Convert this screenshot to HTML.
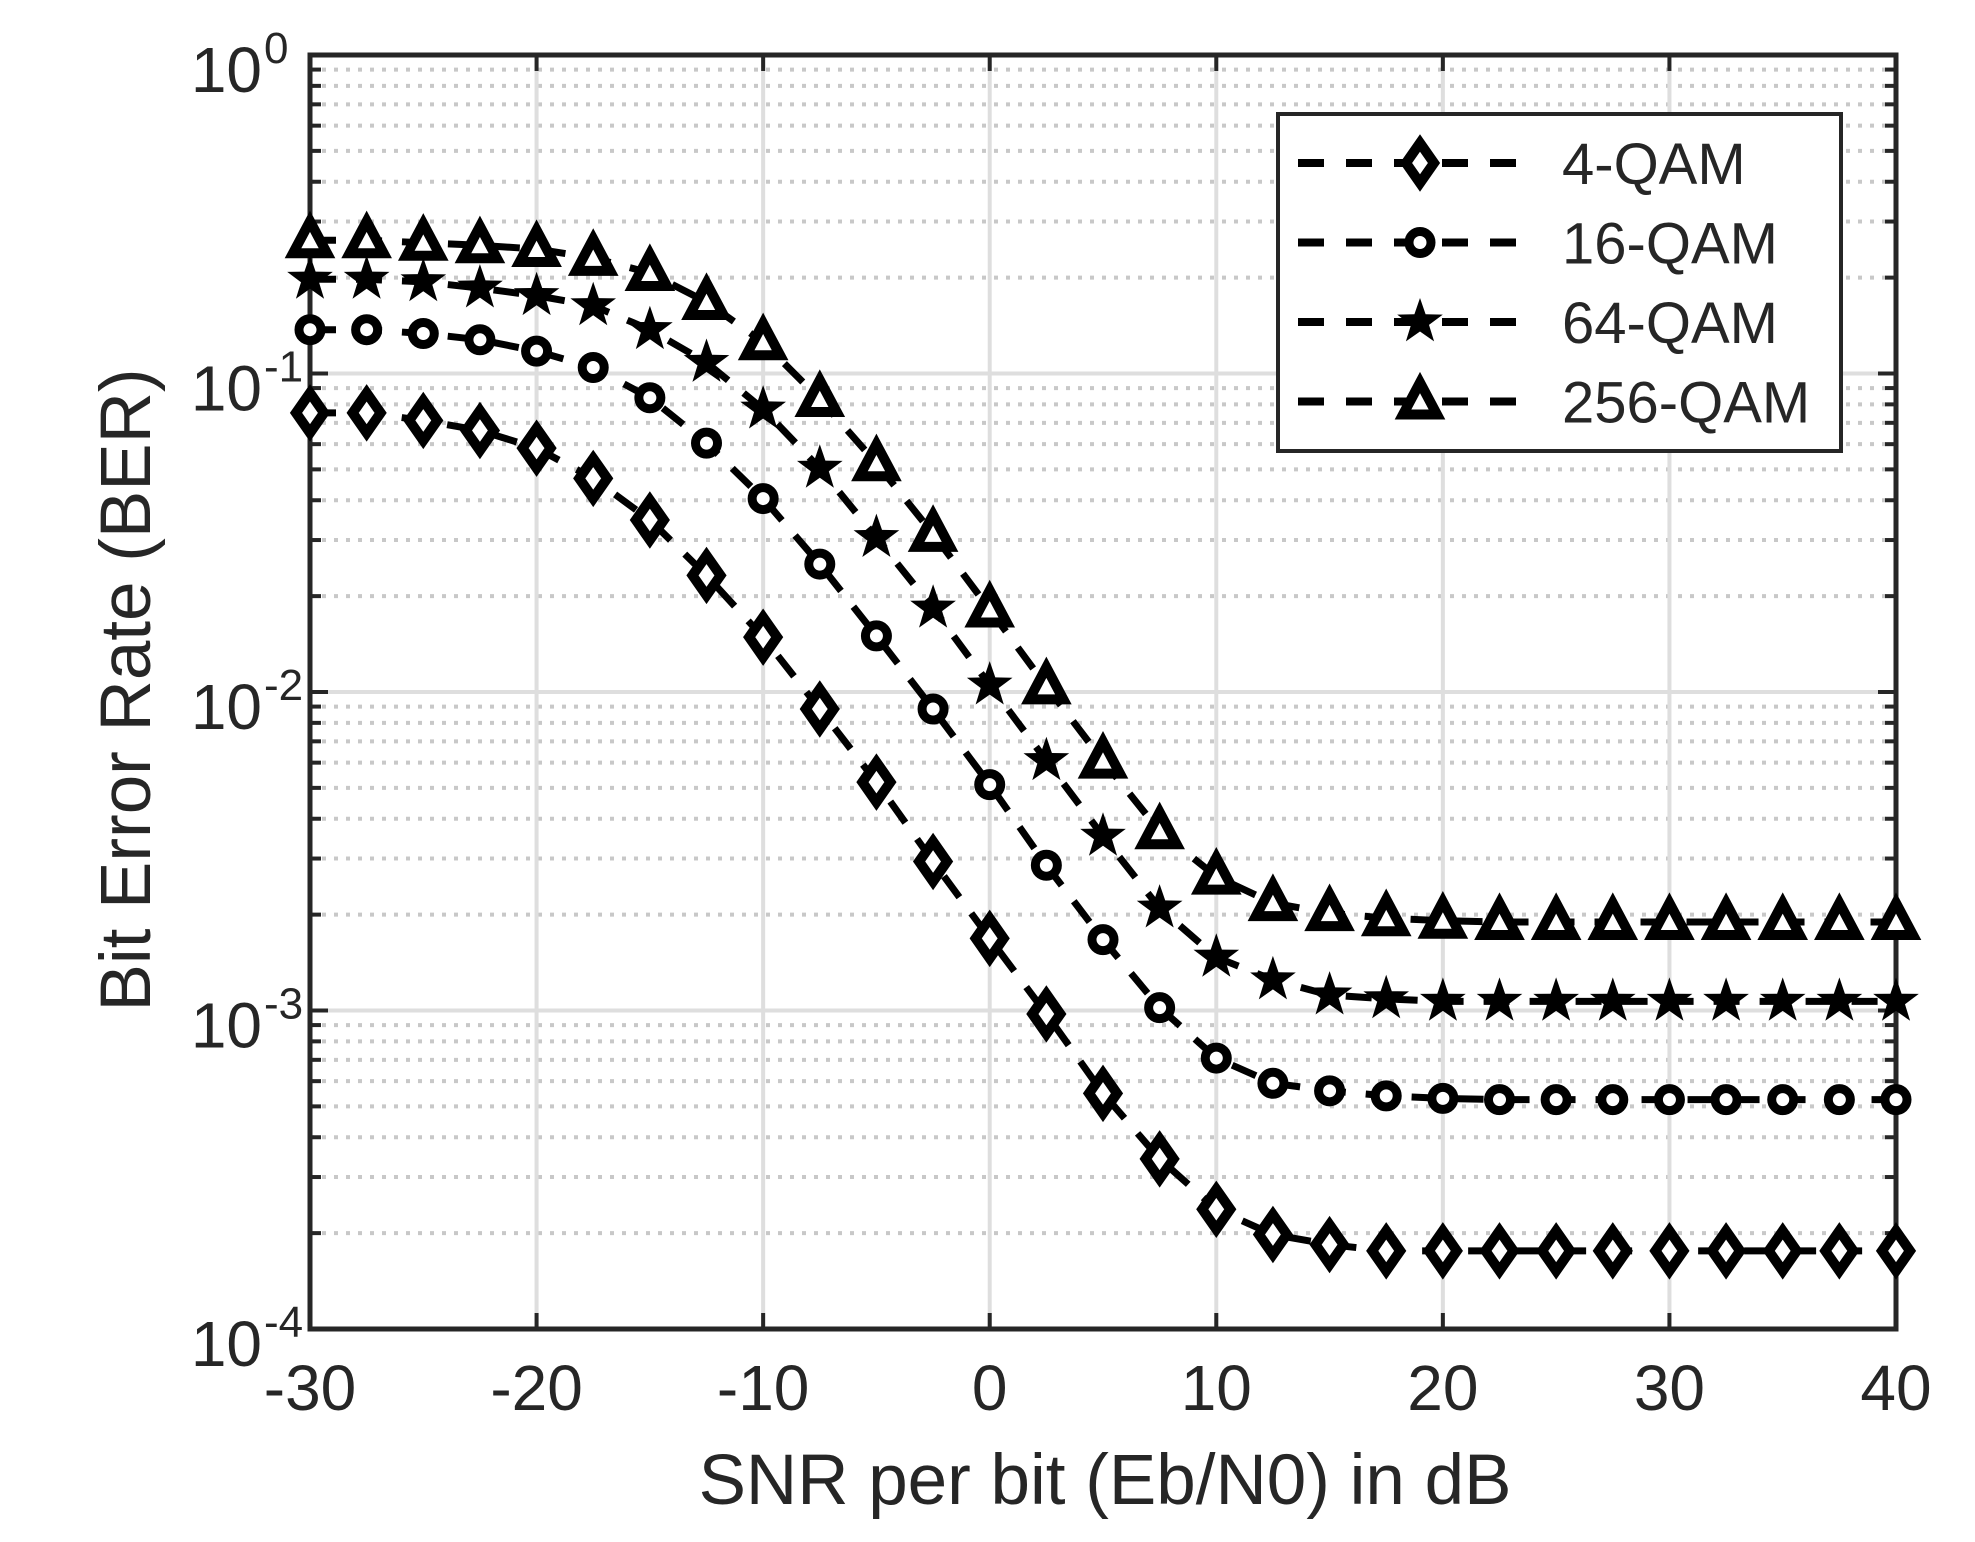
<!DOCTYPE html>
<html><head><meta charset="utf-8"><style>
html,body{margin:0;padding:0;background:#fff;}
svg{display:block;}
text{font-family:"Liberation Sans",sans-serif;fill:#262626;}
</style></head><body>
<svg id="s" width="1975" height="1542" xmlns="http://www.w3.org/2000/svg"></svg>
<script>
const S=document.getElementById('s');
const L=310,R=1896,T=55,B=1329;
const X=d=>L+(d+30)*(R-L)/70;
const dec=(B-T)/4;
const Yd=dy=>T+(dy-44)/1011*(B-T);
let h='';
for(let k=0;k<4;k++){for(let m=2;m<=9;m++){const y=T+dec*(k+1)-Math.log10(m)*dec;
h+=`<line x1="${L}" x2="${R}" y1="${y}" y2="${y}" stroke="#c8c8c8" stroke-width="4" stroke-dasharray="4 8"/>`;
h+=`<line x1="${L}" x2="${L+11}" y1="${y}" y2="${y}" stroke="#262626" stroke-width="4"/><line x1="${R-11}" x2="${R}" y1="${y}" y2="${y}" stroke="#262626" stroke-width="4"/>`;}}
for(let k=1;k<4;k++){const y=T+dec*k;h+=`<line x1="${L}" x2="${R}" y1="${y}" y2="${y}" stroke="#dedede" stroke-width="4"/>`;}
for(let d=-20;d<40;d+=10){const x=X(d);h+=`<line x1="${x}" x2="${x}" y1="${T}" y2="${B}" stroke="#dedede" stroke-width="4"/>`;}
for(let k=0;k<=4;k++){const y=T+dec*k;h+=`<line x1="${L}" x2="${L+18}" y1="${y}" y2="${y}" stroke="#262626" stroke-width="4"/><line x1="${R-18}" x2="${R}" y1="${y}" y2="${y}" stroke="#262626" stroke-width="4"/>`;
h+=`<text x="${L-48}" y="${y+37}" font-size="64" text-anchor="end">10</text><text x="${L-46}" y="${y+8}" font-size="44">${k==0?'0':'-'+k}</text>`;}
for(let d=-30;d<=40;d+=10){const x=X(d);h+=`<line x1="${x}" x2="${x}" y1="${B-16}" y2="${B}" stroke="#262626" stroke-width="4"/><line x1="${x}" x2="${x}" y1="${T}" y2="${T+16}" stroke="#262626" stroke-width="4"/>`;
h+=`<text x="${x}" y="1410" font-size="64" text-anchor="middle">${d}</text>`;}
h+=`<rect x="${L}" y="${T}" width="${R-L}" height="${B-T}" fill="none" stroke="#262626" stroke-width="5"/>`;
h+=`<text x="1105" y="1504" font-size="71" text-anchor="middle">SNR per bit (Eb/N0) in dB</text>`;
h+=`<text transform="translate(150,690) rotate(-90)" font-size="71" text-anchor="middle">Bit Error Rate (BER)</text>`;
const data={
d:[328,328,334,342,356,380,413,457,506,563,621,684,745,805,868,920,960,980,988,993,993,993,993,993,993,993,993,993,993],
c:[262,262,265,270,279,292,316,352,396,448,505,563,623,687,746,800,840,860,866,870,872,873,873,873,873,873,873,873,873],
s:[222,222,224,229,235,243,262,288,325,372,427,483,544,604,664,721,760,778,790,793,795,795,795,795,795,795,795,795,795],
t:[191,191,193,195,198,205,217,240,272,317,368,424,484,545,604,660,696,717,725,729,731,732,732,732,732,732,732,732,732]};
function mk(t,x,y){
 if(t=='d')return `<polygon points="${x},${y-20} ${x+14},${y} ${x},${y+20} ${x-14},${y}" fill="#fff" stroke="#000" stroke-width="10"/>`;
 if(t=='c')return `<circle cx="${x}" cy="${y}" r="11" fill="#fff" stroke="#000" stroke-width="9"/>`;
 if(t=='s'){let p=[];for(let i=0;i<10;i++){const r=i%2?9.5:24,a=-Math.PI/2+i*Math.PI/5;p.push((x+r*Math.cos(a)).toFixed(1)+','+(y+r*Math.sin(a)).toFixed(1));}return `<polygon points="${p.join(' ')}" fill="#000"/>`;}
 return `<polygon points="${x},${y-19} ${x+17},${y+13} ${x-17},${y+13}" fill="#fff" stroke="#000" stroke-width="10" stroke-linejoin="miter"/>`;
}
for(const k in data){const pts=data[k].map((v,i)=>[X(-30+2.5*i),Yd(v)]);
 h+=`<polyline points="${pts.map(p=>p.join(',')).join(' ')}" fill="none" stroke="#000" stroke-width="7" stroke-dasharray="26 20"/>`;
 pts.forEach(p=>h+=mk(k,p[0],p[1]));}
h+=`<rect x="1278" y="114" width="563" height="337" fill="#fff" stroke="#262626" stroke-width="4"/>`;
const names=['4-QAM','16-QAM','64-QAM','256-QAM'],ks=['d','c','s','t'];
for(let i=0;i<4;i++){const y=163+i*79.5;
 h+=`<line x1="1298" x2="1520" y1="${y}" y2="${y}" stroke="#000" stroke-width="8" stroke-dasharray="26 22"/>`;
 h+=mk(ks[i],1420,y);
 h+=`<text x="1562" y="${y+21}" font-size="58">${names[i]}</text>`;}
S.innerHTML=h;
</script>
</body></html>
